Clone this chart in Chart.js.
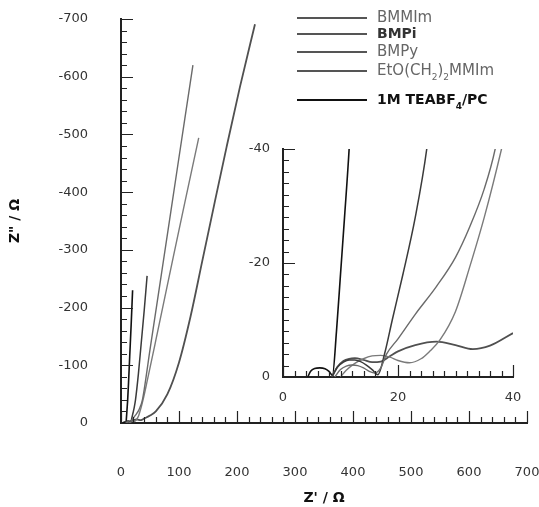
<!DOCTYPE html>
<html><head><meta charset="utf-8">
<script src="https://cdn.jsdelivr.net/npm/chart.js@4/dist/chart.umd.min.js"></script>
<style>
html,body{margin:0;padding:0;background:#fff;}
#wrap{position:relative;width:539px;height:507px;overflow:hidden;}
#main{position:absolute;left:0;top:0;}
#inset{position:absolute;left:230px;top:130px;}
</style></head><body>
<div id="wrap"><canvas id="main" width="539" height="507"></canvas><canvas id="inset" width="309" height="290"></canvas></div>
<script>
// ---- data (Z' and Z'' in ohm) ----
const seriesNames = ['BMMIm', 'BMPi', 'BMPy', 'EtO(CH_2)_2MMIm', '1M TEABF_4/PC'];

const bmmimRe = [9, 10, 11, 12, 13, 14, 15, 16, 17, 18, 20, 23, 26.7, 30, 32.5, 35, 36.9, 40, 50, 70, 98, 110, 124];
const bmmimIm = [0, -1.3, -1.9, -2.1, -2.0, -1.6, -1.0, -0.7, -1.6, -4.0, -6.7, -11, -15.9, -21, -26.4, -33, -40, -58, -127, -260, -447, -527, -620];

const bmpiRe = [8.5, 9.5, 10.5, 11.5, 12.5, 13.5, 14.5, 15.5, 16.5, 17.7, 19, 20.9, 23, 25, 30, 35, 40, 45];
const bmpiIm = [0, -1.8, -2.6, -3.0, -3.0, -2.7, -2.1, -1.3, -0.4, -4.2, -10, -18.2, -28, -40, -85, -140, -195, -255];

const bmpyRe = [10, 11, 12.5, 14, 15.5, 17, 18.6, 20, 22, 24, 25.5, 27.3, 30, 32.5, 35, 38, 45, 60, 90, 110, 134];
const bmpyIm = [0, -1.2, -2.4, -3.2, -3.7, -3.8, -3.5, -2.9, -2.5, -3.2, -4.5, -6.5, -11.5, -19.4, -28, -40, -72, -143, -287, -382, -494];

const etoRe = [8.5, 9.5, 10.5, 11.5, 12.5, 14, 15.5, 17, 18.5, 20, 23, 26.7, 30, 33, 36, 40, 50, 60, 80, 100, 120, 140, 160, 182, 205, 231];
const etoIm = [0, -1.8, -2.8, -3.2, -3.3, -3.0, -2.6, -2.7, -3.6, -4.5, -5.6, -6.2, -5.6, -4.9, -5.5, -7.7, -13, -20, -50, -105, -185, -280, -375, -478, -582, -691];

const teaRe = [4.3, 4.8, 5.5, 6.4, 7.3, 8.0, 8.6, 9.3, 10.0, 10.7, 11.5, 13, 15, 17.5, 20];
const teaIm = [0, -1.0, -1.5, -1.6, -1.45, -1.0, -0.3, -8, -18, -28, -40, -70, -115, -170, -230];

const mainXTicks = [0, 700, 100];
const mainYTicks = [-700, 0, 100];
const insetXTicks = [0, 40, 20];
const insetYTicks = [-40, 0, 20];

// ---- styles ----
const seriesStyle = [
  {color: '#6a6a6a', width: 1.4},
  {color: '#3a3a3a', width: 1.5},
  {color: '#7a7a7a', width: 1.4},
  {color: '#505050', width: 1.8},
  {color: '#111111', width: 1.6}
];
const seriesRe = [bmmimRe, bmpiRe, bmpyRe, etoRe, teaRe];
const seriesIm = [bmmimIm, bmpiIm, bmpyIm, etoIm, teaIm];

function makeDatasets() {
  return seriesNames.map((n, i) => ({
    label: n.replace(/_/g, ''),
    data: seriesRe[i].map((x, k) => ({x: x, y: seriesIm[i][k]})),
    showLine: true,
    pointRadius: 0,
    borderColor: seriesStyle[i].color,
    borderWidth: seriesStyle[i].width,
    cubicInterpolationMode: 'monotone',
    fill: false
  }));
}

const tickFont = {family: 'DejaVu Sans', size: 13};
const tickColor = '#333';

const tickMarks = {
  id: 'tickMarks',
  afterDraw(chart, args, o) {
    const {ctx} = chart;
    const x = chart.scales.x, y = chart.scales.y;
    ctx.save();
    ctx.strokeStyle = '#222';
    ctx.lineWidth = 1.2;
    ctx.beginPath();
    const eps = 1e-6;
    for (let v = x.min; v <= x.max + eps; v += o.xMinor) {
      const px = Math.round(x.getPixelForValue(v)) + 0.5;
      const r = Math.abs(v / o.xMajor - Math.round(v / o.xMajor)) < eps;
      const len = r ? o.major : o.minor;
      ctx.moveTo(px, y.bottom);
      ctx.lineTo(px, y.bottom - len);
    }
    for (let v = y.min; v <= y.max + eps; v += o.yMinor) {
      const py = Math.round(y.getPixelForValue(v)) + 0.5;
      const r = Math.abs(v / o.yMajor - Math.round(v / o.yMajor)) < eps;
      const len = r ? o.major : o.minor;
      ctx.moveTo(x.left, py);
      ctx.lineTo(x.left + len, py);
    }
    ctx.stroke();
    ctx.restore();
  }
};

const customLegend = {
  id: 'customLegend',
  afterDraw(chart, args, o) {
    const {ctx} = chart;
    ctx.save();
    seriesNames.forEach((name, i) => {
      const yy = o.rows[i];
      const last = i === seriesNames.length - 1;
      ctx.strokeStyle = last ? '#111' : '#555';
      ctx.lineWidth = last ? 2.2 : 1.8;
      ctx.beginPath();
      ctx.moveTo(o.lineX0, yy);
      ctx.lineTo(o.lineX1, yy);
      ctx.stroke();
      const bold = (i === 1 || last);
      const color = last ? '#111' : (i === 1 ? '#333' : '#666');
      ctx.fillStyle = color;
      ctx.textBaseline = 'middle';
      let xx = o.textX;
      const parts = name.split(/(_\d)/).filter(s => s.length);
      parts.forEach(p => {
        if (p[0] === '_') {
          ctx.font = (bold ? 'bold ' : '') + '9px "DejaVu Sans"';
          ctx.fillText(p.slice(1), xx, yy + 7);
          xx += ctx.measureText(p.slice(1)).width;
        } else {
          ctx.font = bold ? 'bold 14px "DejaVu Sans"' : '15px "DejaVu Sans"';
          ctx.fillText(p, xx, yy);
          xx += ctx.measureText(p).width;
        }
      });
    });
    ctx.restore();
  }
};

function fixX(h) { return function (s) { s.height = h; s.paddingLeft = 0; s.paddingRight = 0; }; }
function fixY(w) { return function (s) { s.width = w; s.paddingTop = 0; s.paddingBottom = 0; }; }

new Chart(document.getElementById('main'), {
  type: 'scatter',
  data: {datasets: makeDatasets()},
  plugins: [tickMarks, customLegend],
  options: {
    responsive: false,
    animation: false,
    layout: {padding: {left: 0, top: 19, right: 12, bottom: 0}},
    plugins: {
      legend: {display: false},
      tooltip: {enabled: false},
      tickMarks: {xMinor: 20, xMajor: 100, yMinor: 20, yMajor: 100, major: 12, minor: 6},
      customLegend: {rows: [18, 34, 52, 71, 100], lineX0: 297, lineX1: 367, textX: 377}
    },
    scales: {
      x: {
        type: 'linear', min: mainXTicks[0], max: mainXTicks[1],
        ticks: {stepSize: mainXTicks[2], padding: 42, font: tickFont, color: tickColor, maxRotation: 0},
        grid: {display: false, drawTicks: false},
        border: {display: true, color: '#222', width: 2},
        title: {display: true, text: "Z' / Ω", color: '#111', font: {family: 'DejaVu Sans', size: 14, weight: 'bold'}, padding: {top: 0, bottom: 0}},
        afterFit: fixX(84)
      },
      y: {
        type: 'linear', min: mainYTicks[0], max: mainYTicks[1], reverse: true,
        ticks: {stepSize: mainYTicks[2], padding: 33, font: tickFont, color: tickColor},
        grid: {display: false, drawTicks: false},
        border: {display: true, color: '#222', width: 2},
        title: {display: true, text: 'Z" / Ω', color: '#111', font: {family: 'DejaVu Sans', size: 14, weight: 'bold'}, padding: {top: 7, bottom: 0}},
        afterFit: fixY(121)
      }
    }
  }
});

new Chart(document.getElementById('inset'), {
  type: 'scatter',
  data: {datasets: makeDatasets()},
  plugins: [tickMarks],
  options: {
    responsive: false,
    animation: false,
    layout: {padding: {left: 0, top: 19, right: 26, bottom: 0}},
    plugins: {
      legend: {display: false},
      tooltip: {enabled: false},
      tickMarks: {xMinor: 2, xMajor: 20, yMinor: 2, yMajor: 20, major: 12, minor: 6}
    },
    scales: {
      x: {
        type: 'linear', min: insetXTicks[0], max: insetXTicks[1],
        ticks: {stepSize: insetXTicks[2], padding: 13, font: tickFont, color: tickColor, maxRotation: 0},
        grid: {display: false, drawTicks: false},
        border: {display: true, color: '#222', width: 2},
        afterFit: fixX(43)
      },
      y: {
        type: 'linear', min: insetYTicks[0], max: insetYTicks[1], reverse: true,
        ticks: {stepSize: insetYTicks[2], padding: 13, font: tickFont, color: tickColor},
        grid: {display: false, drawTicks: false},
        border: {display: true, color: '#222', width: 2},
        afterFit: fixY(53)
      }
    }
  }
});
</script>
</body></html>
